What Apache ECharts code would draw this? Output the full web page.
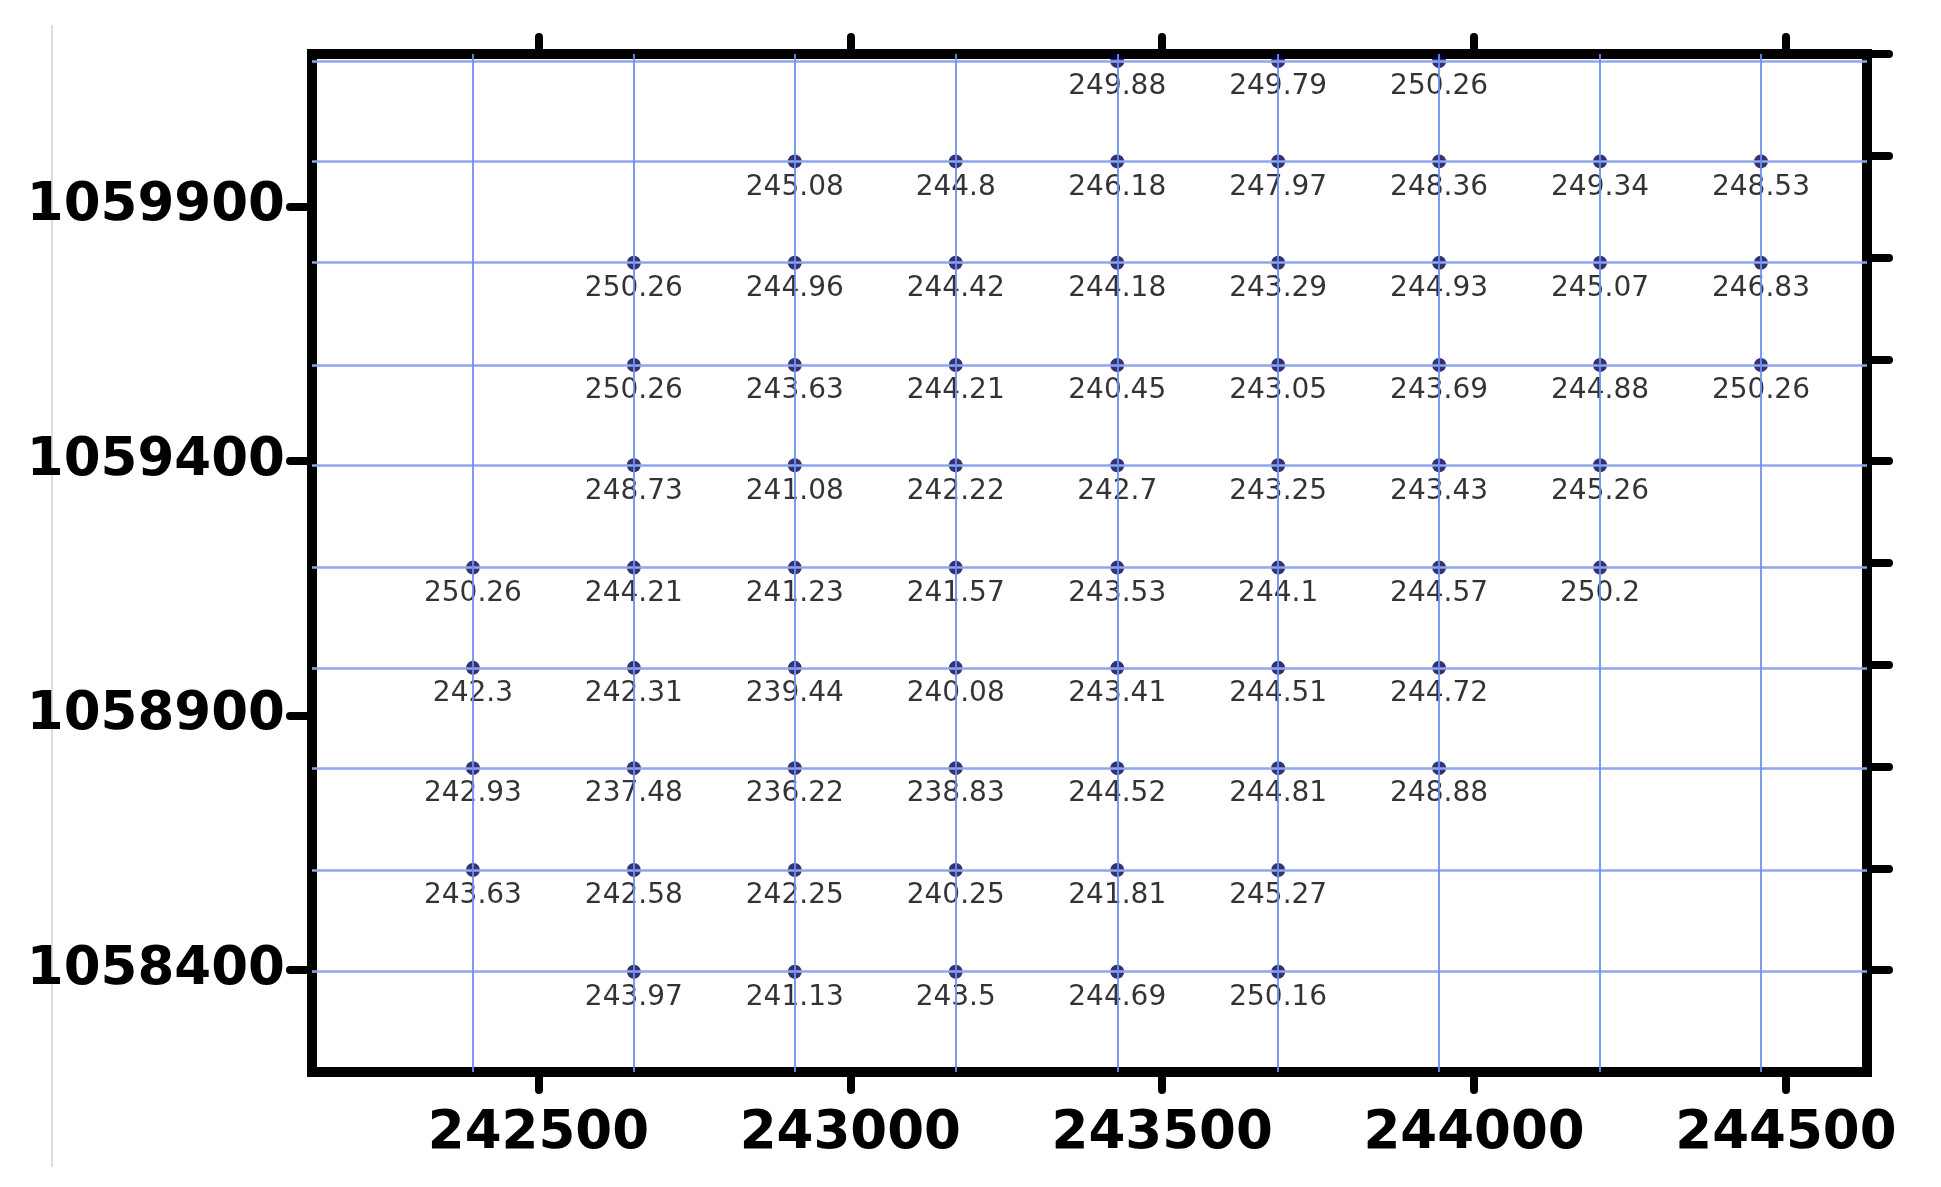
<!DOCTYPE html>
<html>
<head>
<meta charset="utf-8">
<script src="https://cdn.jsdelivr.net/npm/echarts@6/dist/echarts.min.js"></script>
<style>
html,body{margin:0;padding:0;background:#fff;}
#chart{width:1941px;height:1187px;}
</style>
</head>
<body>
<div id="chart"></div>
<script>
// Easting of grid columns (left to right)
var colX = [242395, 242653, 242911, 243169, 243428, 243686, 243944, 244202, 244460];
// Northing of grid rows (bottom to top)
var rowY = [1058397, 1058597, 1058797, 1058994, 1059191, 1059392, 1059589, 1059790, 1059989, 1060186];

// values per row (bottom to top); null = no point
var row0 = [null, 243.97, 241.13, 243.5, 244.69, 250.16, null, null, null];
var row1 = [243.63, 242.58, 242.25, 240.25, 241.81, 245.27, null, null, null];
var row2 = [242.93, 237.48, 236.22, 238.83, 244.52, 244.81, 248.88, null, null];
var row3 = [242.3, 242.31, 239.44, 240.08, 243.41, 244.51, 244.72, null, null];
var row4 = [250.26, 244.21, 241.23, 241.57, 243.53, 244.1, 244.57, 250.2, null];
var row5 = [null, 248.73, 241.08, 242.22, 242.7, 243.25, 243.43, 245.26, null];
var row6 = [null, 250.26, 243.63, 244.21, 240.45, 243.05, 243.69, 244.88, 250.26];
var row7 = [null, 250.26, 244.96, 244.42, 244.18, 243.29, 244.93, 245.07, 246.83];
var row8 = [null, null, 245.08, 244.8, 246.18, 247.97, 248.36, 249.34, 248.53];
var row9 = [null, null, null, null, 249.88, 249.79, 250.26, null, null];
var rowsValues = [row0, row1, row2, row3, row4, row5, row6, row7, row8, row9];

// tick labels
var xTickValues = [242500, 243000, 243500, 244000, 244500];
var yTickValues = [1058400, 1058900, 1059400, 1059900];
var yRightTicks = [1058400, 1058600, 1058800, 1059000, 1059200, 1059400, 1059600, 1059800, 1060000, 1060200];

var points = [];
rowsValues.forEach(function (vals, r) {
  vals.forEach(function (v, c) {
    if (v !== null) points.push([colX[c], rowY[r], v]);
  });
});

var chart = echarts.init(document.getElementById('chart'), null, {renderer: 'canvas'});
var axisLineStyle = {color: '#000', width: 10, cap: 'square'};
var tickStyle = {color: '#000', width: 8, cap: 'round'};
var labelFont = {fontFamily: 'DejaVu Sans', fontWeight: 'bold', fontSize: 53, color: '#000'};

chart.setOption({
  animation: false,
  backgroundColor: '#fff',
  grid: {left: 312, right: 74, top: 54, bottom: 115, containLabel: false},
  graphic: [{
    type: 'line', shape: {x1: 52, y1: 25, x2: 52, y2: 1167},
    style: {stroke: '#dcdcdc', lineWidth: 2}, silent: true
  }],
  xAxis: [{
    type: 'value', position: 'bottom', min: 242137, max: 244630,
    axisLine: {show: true, onZero: false, lineStyle: axisLineStyle},
    axisTick: {show: true, inside: false, length: 18, customValues: xTickValues, lineStyle: tickStyle},
    axisLabel: Object.assign({show: true, margin: 36, customValues: xTickValues,
      formatter: function (v) { return String(v); }}, labelFont),
    splitLine: {show: false}
  }, {
    type: 'value', position: 'top', min: 242137, max: 244630,
    axisLine: {show: true, onZero: false, lineStyle: axisLineStyle},
    axisTick: {show: true, inside: false, length: 17, customValues: xTickValues, lineStyle: tickStyle},
    axisLabel: {show: false},
    splitLine: {show: false}
  }],
  yAxis: [{
    type: 'value', position: 'left', min: 1058200, max: 1060200,
    axisLine: {show: true, onZero: false, lineStyle: axisLineStyle},
    axisTick: {show: true, inside: false, length: 22, customValues: yTickValues, lineStyle: tickStyle},
    axisLabel: Object.assign({show: true, margin: 27, customValues: yTickValues,
      formatter: function (v) { return String(v); }}, labelFont),
    splitLine: {show: false}
  }, {
    type: 'value', position: 'right', min: 1058200, max: 1060200,
    axisLine: {show: true, onZero: false, lineStyle: axisLineStyle},
    axisTick: {show: true, inside: false, length: 22, customValues: yRightTicks, lineStyle: tickStyle},
    axisLabel: {show: false},
    splitLine: {show: false}
  }],
  series: [{
    type: 'scatter', xAxisIndex: 0, yAxisIndex: 0, data: [], z: 1, silent: true,
    markLine: {
      silent: true, symbol: ['none', 'none'], label: {show: false}, animation: false,
      data: rowY.map(function (y) {
        return {yAxis: y, lineStyle: {color: '#8fa6ee', width: 2.5, type: 'solid'}};
      }).concat(colX.map(function (x) {
        return {xAxis: x, lineStyle: {color: '#6f8ff0', width: 1.8, type: 'solid'}};
      }))
    }
  }, {
    type: 'scatter', xAxisIndex: 0, yAxisIndex: 0, z: 3,
    data: points, symbol: 'circle', symbolSize: 14,
    itemStyle: {color: '#000050'},
    label: {
      show: true, position: 'bottom', distance: 5,
      fontFamily: 'DejaVu Sans', fontSize: 28, color: '#000',
      formatter: function (p) { return String(p.value[2]); }
    }
  }]
});
</script>
</body>
</html>
